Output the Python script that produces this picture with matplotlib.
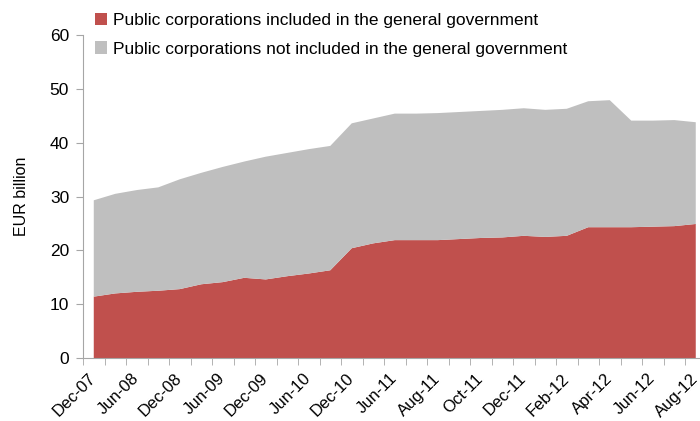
import matplotlib.pyplot as plt
import numpy as np

plt.rcParams['font.family'] = ['Liberation Sans', 'DejaVu Sans']

months = ['Dec-07', 'Mar-08', 'Jun-08', 'Sep-08', 'Dec-08', 'Mar-09', 'Jun-09',
          'Sep-09', 'Dec-09', 'Mar-10', 'Jun-10', 'Sep-10', 'Dec-10', 'Mar-11',
          'Jun-11', 'Jul-11', 'Aug-11', 'Sep-11', 'Oct-11', 'Nov-11', 'Dec-11',
          'Jan-12', 'Feb-12', 'Mar-12', 'Apr-12', 'May-12', 'Jun-12', 'Jul-12',
          'Aug-12']

# EUR billion
included = [11.4, 12.0, 12.3, 12.5, 12.8, 13.7, 14.1, 14.9, 14.6, 15.2, 15.7,
            16.3, 20.4, 21.3, 21.9, 21.9, 21.9, 22.1, 22.3, 22.4, 22.7, 22.5,
            22.7, 24.3, 24.3, 24.3, 24.4, 24.5, 24.9]
not_included = [17.9, 18.5, 18.9, 19.2, 20.4, 20.7, 21.4, 21.6, 22.8, 22.9, 23.1,
                23.1, 23.2, 23.2, 23.5, 23.5, 23.6, 23.6, 23.6, 23.7, 23.7, 23.6,
                23.6, 23.4, 23.6, 19.8, 19.7, 19.7, 18.9]

red = '#C0504D'
grey = '#BFBFBF'
axis_col = '#A6A6A6'

fig = plt.figure(figsize=(7, 4.21), dpi=100)
ax = fig.add_axes([0.1186, 0.1496, 0.8907, 0.7672])

x = np.arange(len(months))
ax.stackplot(x, included, not_included, colors=[red, grey],
             labels=['Public corporations included in the general government',
                     'Public corporations not included in the general government'],
             linewidth=0)

ax.set_xlim(-0.5, len(months) - 0.5)
ax.set_ylim(0, 60)
ax.set_yticks(range(0, 61, 10))
ax.tick_params(axis='y', labelsize=12.5, length=5, color=axis_col, pad=5)

ax.set_xticks(x[::2])
ax.set_xticklabels(months[::2], rotation=45, ha='right', va='center',
                   rotation_mode='anchor', fontsize=12)
ax.set_xticks(np.arange(-0.5, len(months), 1), minor=True)
ax.tick_params(axis='x', which='major', length=0, pad=13)
ax.tick_params(axis='x', which='minor', length=5, color=axis_col)

for side in ['top', 'right']:
    ax.spines[side].set_visible(False)
for side in ['left', 'bottom']:
    ax.spines[side].set_color(axis_col)

ax.set_ylabel('EUR billion', fontsize=11.5, labelpad=15)

ax.legend(loc='upper left', bbox_to_anchor=(0.126, 0.985), bbox_transform=fig.transFigure,
          frameon=False, fontsize=12.5, handlelength=0.7, handleheight=0.7,
          handletextpad=0.3, labelspacing=0.75, borderaxespad=0)

fig.savefig('out.png', dpi=100)
